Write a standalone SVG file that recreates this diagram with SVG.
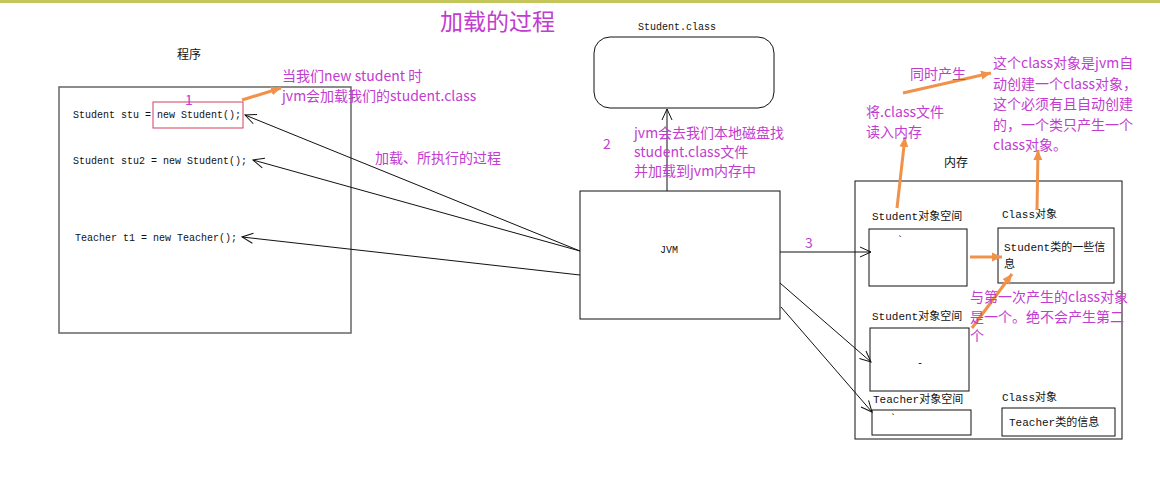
<svg xmlns="http://www.w3.org/2000/svg" width="1160" height="479" viewBox="0 0 1160 479">
<style>
.code{font-family:"Liberation Mono","Noto Sans CJK SC",monospace;font-size:10px;fill:#111}
.lbl{font-family:"Liberation Mono","Noto Sans CJK SC",monospace;font-size:11px;fill:#111}
.cj{font-family:"Noto Sans CJK SC",sans-serif;font-size:12px;fill:#111}
.mg{font-family:"Noto Sans CJK SC",sans-serif;font-size:14px;fill:#c23ccf}
.box{fill:#fff;stroke:#111;stroke-width:1}
.conn{stroke:#111;stroke-width:1;fill:none;marker-end:url(#open)}
.or{stroke:#f0924a;stroke-width:3;fill:none;marker-end:url(#tri)}
</style>
<defs>
<marker id="open" viewBox="-12 -6 14 12" markerWidth="14" markerHeight="12" refX="0" refY="0" orient="auto" markerUnits="userSpaceOnUse">
<path d="M-11,-5 L0,0 L-11,5" fill="none" stroke="#111" stroke-width="1"/>
</marker>
<marker id="tri" viewBox="-10 -5 11 10" markerWidth="11" markerHeight="10" refX="0" refY="0" orient="auto" markerUnits="userSpaceOnUse">
<path d="M-10,-4.5 L0,0 L-10,4.5 Z" fill="#f0924a"/>
</marker>
</defs>
<rect width="1160" height="479" fill="#fff"/>
<rect x="0" y="0" width="1160" height="3" fill="#c4c65c"/>
<text x="440" y="30" font-family="Noto Sans CJK SC, sans-serif" font-size="23" fill="#c23ccf">加载的过程</text>

<g id="program">
<text x="177" y="59" class="cj">程序</text>
<rect x="59" y="87" width="292" height="246" fill="#fff" stroke="#666" stroke-width="1.5"/>
<text x="73" y="118" class="code">Student stu = new Student();</text>
<rect x="153" y="102" width="90" height="26" fill="none" stroke="#d04060" stroke-width="1"/>
<text x="73" y="164" class="code">Student stu2 = new Student();</text>
<text x="75" y="241" class="code">Teacher t1 = new Teacher();</text>
<text x="185" y="105" class="mg">1</text>
</g>

<g id="studentclass">
<text x="638" y="30" class="code">Student.class</text>
<rect x="594" y="37" width="180" height="71" rx="16" ry="16" class="box"/>
</g>

<g id="jvm">
<rect x="580" y="191" width="200" height="128" class="box"/>
<text x="660" y="253" class="code">JVM</text>
</g>

<g id="memory">
<text x="944" y="167" class="cj">内存</text>
<rect x="855" y="181" width="267" height="258" class="box"/>
</g>
<g id="stuspace1">
<text x="872" y="220" class="lbl">Student对象空间</text>
<rect x="869" y="229" width="98" height="57" class="box"/>
<text x="897" y="244" class="code">`</text>
</g>
<g id="classobj1">
<text x="1002" y="218" class="lbl">Class对象</text>
<rect x="998" y="228" width="116" height="55" class="box"/>
<text x="1004" y="251" class="lbl">Student类的一些信</text>
<text x="1004" y="268" class="lbl">息</text>
</g>
<g id="stuspace2">
<text x="872" y="320" class="lbl">Student对象空间</text>
<rect x="870" y="328" width="99" height="63" class="box"/>
<text x="917" y="366" class="code">-</text>
</g>
<g id="teaspace">
<text x="873" y="403" class="lbl">Teacher对象空间</text>
<rect x="872" y="410" width="99" height="25" class="box"/>
<text x="890" y="422" class="code">`</text>
</g>
<g id="classobj2">
<text x="1002" y="401" class="lbl">Class对象</text>
<rect x="1002" y="408" width="113" height="28" class="box"/>
<text x="1009" y="426" class="lbl">Teacher类的信息</text>
</g>

<g id="connectors">
<line x1="580" y1="251" x2="245" y2="115" class="conn"/>
<line x1="580" y1="251" x2="253" y2="160" class="conn"/>
<line x1="580" y1="275" x2="242" y2="237" class="conn"/>
<line x1="667" y1="191" x2="667" y2="109" class="conn"/>
<line x1="780" y1="252" x2="871" y2="252" class="conn"/>
<line x1="780" y1="283" x2="871" y2="362" class="conn"/>
<line x1="781" y1="307" x2="872" y2="412" class="conn"/>
<line x1="242" y1="100" x2="281" y2="88" class="or"/>
<line x1="897" y1="208" x2="905" y2="137" class="or"/>
<line x1="903" y1="93" x2="991" y2="73" class="or"/>
<line x1="1037" y1="210" x2="1038" y2="150" class="or"/>
<line x1="970" y1="257" x2="1002" y2="257" class="or"/>
<line x1="972" y1="328" x2="1012" y2="274" class="or"/>
</g>

<g id="notes">
<text x="282" y="81" class="mg">当我们new student 时</text>
<text x="282" y="101" class="mg">jvm会加载我们的student.class</text>
<text x="375" y="163" class="mg">加载、所执行的过程</text>
<text x="603" y="149" class="mg">2</text>
<text x="634" y="138" class="mg">jvm会去我们本地磁盘找</text>
<text x="634" y="157" class="mg">student.class文件</text>
<text x="634" y="176" class="mg">并加载到jvm内存中</text>
<text x="805" y="248" class="mg">3</text>
<text x="866" y="117" class="mg">将.class文件</text>
<text x="866" y="137" class="mg">读入内存</text>
<text x="910" y="79" class="mg">同时产生</text>
<text x="993" y="68" class="mg">这个class对象是jvm自</text>
<text x="993" y="89" class="mg">动创建一个class对象，</text>
<text x="993" y="109" class="mg">这个必须有且自动创建</text>
<text x="993" y="130" class="mg">的，一个类只产生一个</text>
<text x="993" y="150" class="mg">class对象。</text>
<text x="970" y="302" class="mg">与第一次产生的class对象</text>
<text x="970" y="322" class="mg">是一个。绝不会产生第二</text>
<text x="970" y="341" class="mg">个</text>
</g>
</svg>
